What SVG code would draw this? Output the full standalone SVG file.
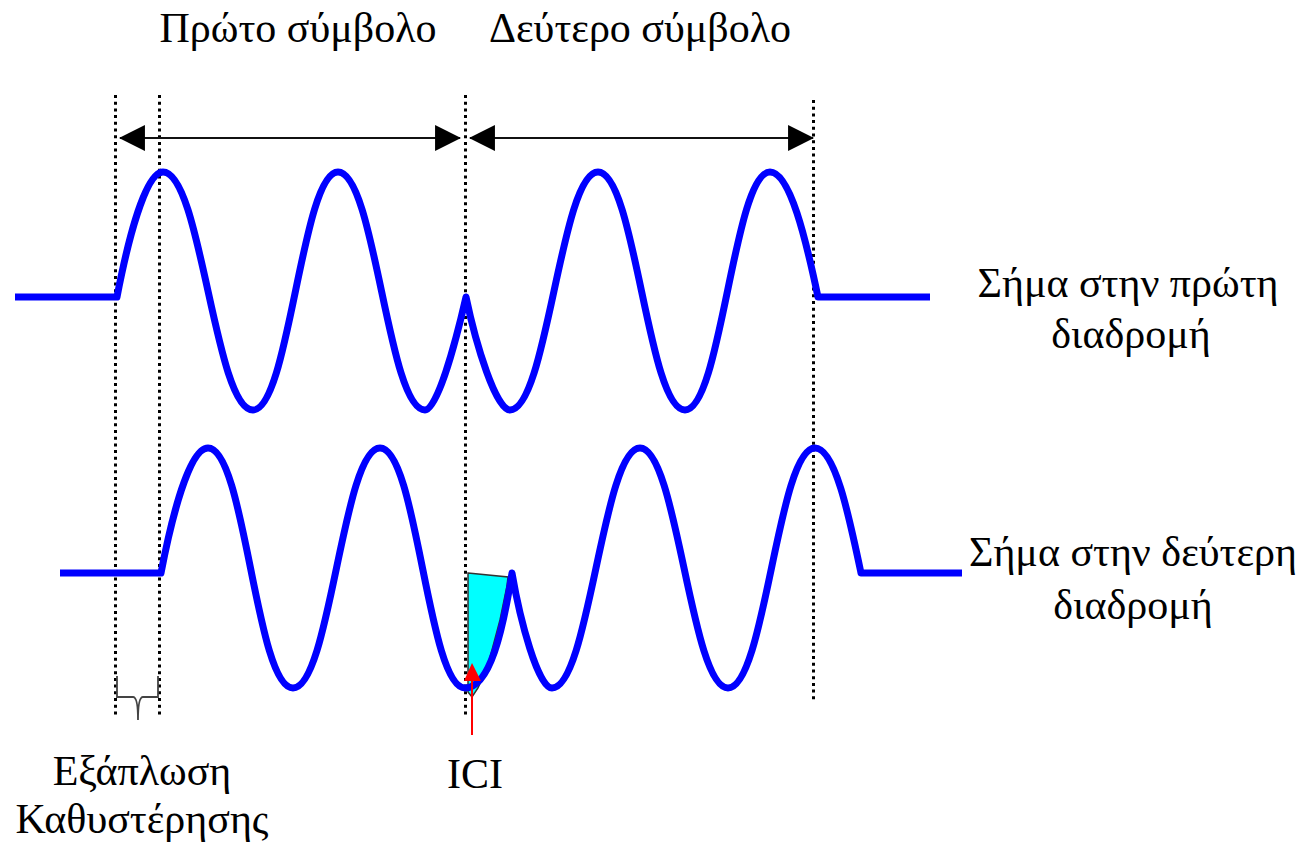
<svg xmlns="http://www.w3.org/2000/svg" width="1303" height="847" viewBox="0 0 1303 847">
<style>
.lbl{font-family:"Liberation Serif","Times New Roman",serif;font-size:42px;fill:#000;text-anchor:middle}
.wave{fill:none;stroke:#0000ff;stroke-width:7;stroke-linejoin:round}
.dot{stroke:#000;stroke-width:3;stroke-dasharray:3 3.7;fill:none}
.dim{stroke:#111;stroke-width:2;fill:none}
</style>
<defs>
<marker id="ah" markerUnits="userSpaceOnUse" markerWidth="26" markerHeight="26" viewBox="0 0 24 24" refX="23" refY="12" orient="auto-start-reverse">
<path d="M0,0 L24,12 L0,24 Z" fill="#000"/>
</marker>
</defs>
<g id="ici-area">
<path d="M468,573 L508,577 L507,586 L500,620 L492,650 L487,668 L478,688 L472,697 L468,692 Z" fill="#00ffff" stroke="#333" stroke-width="1.5"/>
</g>
<g id="guides">
<line class="dot" x1="115.5" y1="95" x2="115.5" y2="717"/>
<line class="dot" x1="159.5" y1="95" x2="159.5" y2="717"/>
<line class="dot" x1="465.5" y1="95" x2="465.5" y2="717"/>
<line class="dot" x1="813.5" y1="100" x2="813.5" y2="702"/>
</g>
<g id="connectors">
<line class="dim" x1="120" y1="138" x2="460" y2="138" marker-start="url(#ah)" marker-end="url(#ah)"/>
<line class="dim" x1="470" y1="138" x2="813" y2="138" marker-start="url(#ah)" marker-end="url(#ah)"/>
<path d="M117,676 V697 H133 Q138,697 138,720 Q138,697 143,697 H158 V676" fill="none" stroke="#444" stroke-width="1.8"/>
</g>
<g id="signal1">
<path class="wave" d="M15,297 H117 C127,245 145,172 163,172 C201,172 215,410 253,410 C289,410 302,172 338,172 C375,172 388,410 425,410 C437,410 455,345 466,297 C476,345 496,410 510,410 C547,410 561,172 598,172 C635,172 648,410 685,410 C721,410 734,172 770,172 C790,172 806,240 818,297 H930"/>
</g>
<g id="signal2">
<path class="wave" d="M60,573 H161 C171,521 189,448 208,448 C245,448 256,688 293,688 C330,688 343,448 380,448 C417,448 428,688 465,688 C490,688 503,630 512,573 C520,620 538,688 552,688 C589,688 603,448 640,448 C677,448 691,688 728,688 C765,688 778,448 815,448 C835,448 849,516 861,573 H962"/>
</g>
<g id="ici-arrow">
<line x1="472" y1="735" x2="472" y2="676" stroke="#ff0000" stroke-width="2"/>
<path d="M472,663 L481,681 L464,681 Z" fill="#ff0000"/>
</g>
<g id="labels">
<text class="lbl" x="298" y="42">Πρώτο σύμβολο</text>
<text class="lbl" x="640" y="42">Δεύτερο σύμβολο</text>
<text class="lbl" x="1128" y="297">Σήμα στην πρώτη</text>
<text class="lbl" x="1131" y="348">διαδρομή</text>
<text class="lbl" x="1133" y="566">Σήμα στην δεύτερη</text>
<text class="lbl" x="1133" y="619">διαδρομή</text>
<text class="lbl" x="142" y="785">Εξάπλωση</text>
<text class="lbl" x="142" y="833">Καθυστέρησης</text>
<text class="lbl" x="475" y="788">ICI</text>
</g>
</svg>
